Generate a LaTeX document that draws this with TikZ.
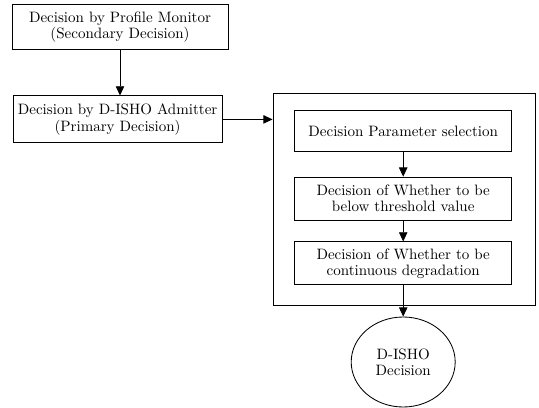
\documentclass[tikz,border=0pt]{standalone}
\usepackage{tikz}
\usetikzlibrary{
  arrows.meta,
  shapes.geometric
}
\tikzset{
  flow arrow/.style={
    line width=0.6pt,
    -{Triangle[length=2.3mm,width=2.1mm]}
  },
  decision box/.style={
    draw,
    line width=0.6pt,
    rectangle,
    align=center,
    inner sep=0pt,
    font=\fontsize{10.7}{11.6}\selectfont
  },
  stage frame/.style={
    draw,
    line width=0.6pt,
    rectangle,
    inner sep=0pt
  },
  result node/.style={
    draw,
    line width=0.6pt,
    ellipse,
    align=center,
    inner sep=0pt,
    font=\fontsize{10.7}{11.6}\selectfont
  }
}

\begin{document}
\begin{tikzpicture}

    \useasboundingbox (0,0) rectangle (13.475,10.175);

    % ---------- left column ----------
    \node[decision box, minimum width=5.4cm, minimum height=1.125cm]
      (profile) at (3.0,9.49)
      {Decision by Profile Monitor\\(Secondary Decision)};

    \node[decision box, minimum width=5.225cm, minimum height=1.175cm]
      (admitter) at (2.94,7.19)
      {Decision by D-ISHO Admitter\\(Primary Decision)};

    % ---------- right frame ----------
    \node[stage frame, minimum width=6.55cm, minimum height=5.3cm]
      (stage) at (10.1,5.2) {};

    \node[decision box, minimum width=5.425cm, minimum height=1.025cm]
      (param) at (10.08,6.89)
      {Decision Parameter selection};

    \node[decision box, minimum width=5.425cm, minimum height=1.075cm]
      (thresh) at (10.08,5.21)
      {Decision of Whether to be\\below threshold value};

    \node[decision box, minimum width=5.425cm, minimum height=1.075cm]
      (degrade) at (10.08,3.59)
      {Decision of Whether to be\\continuous degradation};

    % result
    \node[result node, minimum width=2.6cm, minimum height=2.25cm]
      (result) at (10.08,1.125)
      {D-ISHO\\Decision};

    % connectors
    \draw[flow arrow] (profile.south) -- (profile.south |- admitter.north);
    \draw[flow arrow] (admitter.east) -- (admitter.east -| stage.west);
    \draw[flow arrow] (param.south) -- (thresh.north);
    \draw[flow arrow] (thresh.south) -- (degrade.north);
    \draw[flow arrow] (degrade.south) -- (result.north);

  \end{tikzpicture}
\end{document}
